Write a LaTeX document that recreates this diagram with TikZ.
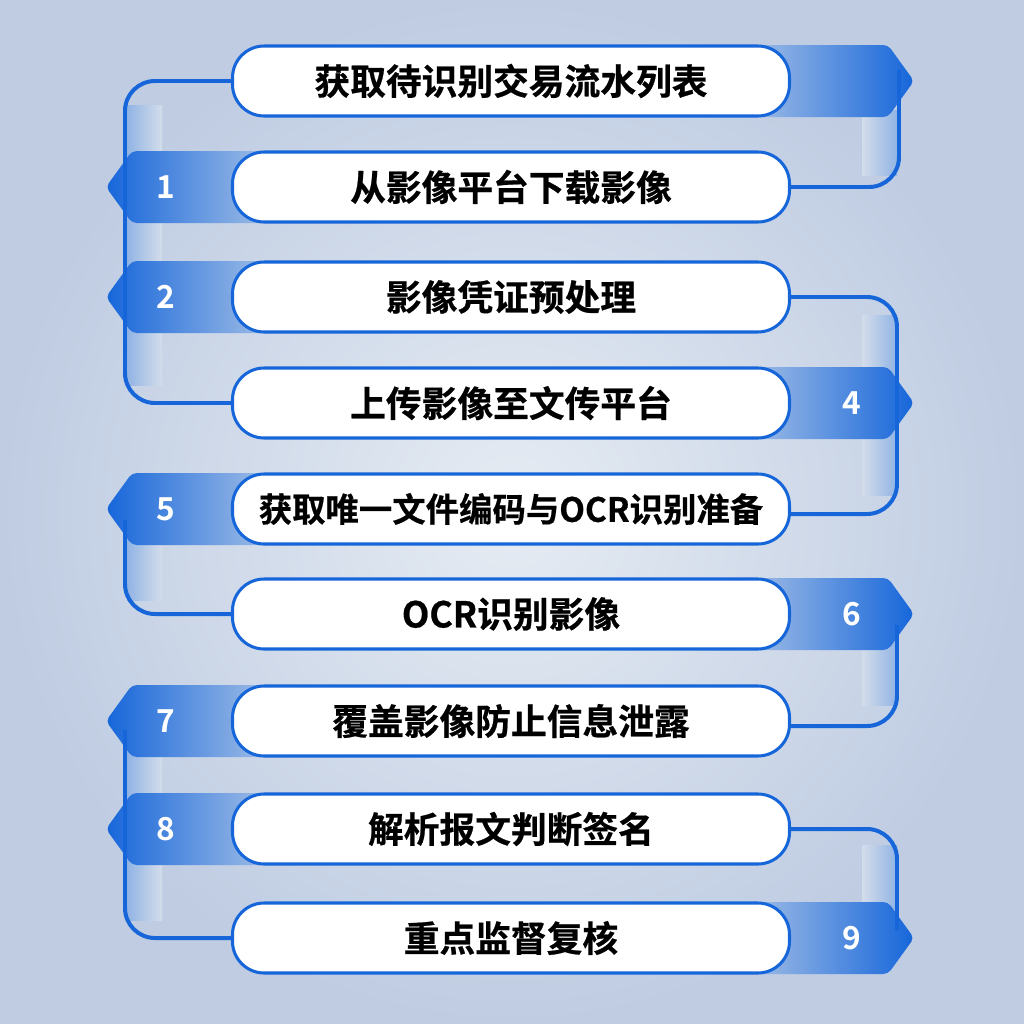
\documentclass[tikz,border=0pt]{standalone}
\usepackage{fontspec}
\newfontfamily\cjk[FakeBold=0.6]{Noto Sans CJK SC Bold}
\newfontfamily\cjknum{Noto Sans CJK SC Bold}
\definecolor{bl}{HTML}{1666DA}
\definecolor{bgc}{HTML}{D3DDEA}
\definecolor{bgi}{HTML}{E6ECF3}
\definecolor{bgo}{HTML}{BFCCE2}
\begin{document}
\begin{tikzpicture}[x=0.03cm,y=-0.03cm,
  pill/.style={draw=bl,line width=2.6pt,fill=white,rounded corners=0.95cm,minimum width=557*0.03cm,minimum height=70*0.03cm,font=\cjk\fontsize{30.5}{34}\selectfont,inner sep=0pt},
  num/.style={text=white,font=\cjknum\fontsize{27}{30}\selectfont},
  conn/.style={draw=bl,line width=3.4pt,rounded corners=0.9cm}]
\useasboundingbox (0,0) rectangle (1024,1024);
\shade[inner color=bgi,outer color=bgo] (0,0) rectangle (1024,1024);
% tabs
\newcommand\ltab[1]{\shade[left color=bl,right color=bgc,rounded corners=4pt] (106,#1) -- (132,#1-36) -- (330,#1-36) -- (330,#1+36) -- (132,#1+36) -- cycle;}
\newcommand\rtab[1]{\shade[right color=bl,left color=bgc,rounded corners=4pt] (914,#1) -- (888,#1-36) -- (690,#1-36) -- (690,#1+36) -- (888,#1+36) -- cycle;}
% connector light bands
\newcommand\lband[2]{\shade[left color=bl!35!bgc,right color=bgc] (127,#1) rectangle (162,#2);}
\newcommand\rband[2]{\shade[right color=bl!35!bgc,left color=bgc] (862,#1) rectangle (897,#2);}
\lband{105}{385}
\rband{110}{175}
\rband{315}{495}
\lband{530}{600}
\rband{640}{705}
\lband{745}{920}
\rband{845}{915}
\rtab{81}\ltab{187}\ltab{297}\rtab{403}\ltab{509}\rtab{614}\ltab{721}\ltab{829}\rtab{938}
% pills
\node[pill] (p1) at (511,81) {获取待识别交易流水列表};
\node[pill] (p2) at (511,187) {从影像平台下载影像};
\node[pill] (p3) at (511,297) {影像凭证预处理};
\node[pill] (p4) at (511,403) {上传影像至文传平台};
\node[pill,font=\cjk\fontsize{28.5}{32}\selectfont] (p5) at (511,509) {获取唯一文件编码与OCR识别准备};
\node[pill] (p6) at (511,614) {OCR识别影像};
\node[pill] (p7) at (511,721) {覆盖影像防止信息泄露};
\node[pill] (p8) at (511,829) {解析报文判断签名};
\node[pill] (p9) at (511,938) {重点监督复核};
% connectors
\coordinate (l1) at (125,81); \coordinate (l4) at (125,403);
\draw[conn] (p1.west) -- (l1) -- (l4) -- (p4.west);
\coordinate (r1) at (899,70); \coordinate (r2) at (899,187);
\draw[conn] (r1) -- (r2) -- (p2.east);
\coordinate (r3) at (897,297); \coordinate (r5) at (897,514);
\draw[conn] (p3.east) -- (r3) -- (r5) -- ([yshift=-0.15cm]p5.east);
\coordinate (l5) at (125,520); \coordinate (l6) at (125,614);
\draw[conn] (l5) -- (l6) -- (p6.west);
\coordinate (r6) at (897,625); \coordinate (r7) at (897,726);
\draw[conn] (r6) -- (r7) -- ([yshift=-0.15cm]p7.east);
\coordinate (l7) at (125,730); \coordinate (l9) at (125,938);
\draw[conn] (l7) -- (l9) -- (p9.west);
\coordinate (r8) at (897,829); \coordinate (r9) at (897,930);
\draw[conn] (p8.east) -- (r8) -- (r9);
% numbers
\node[num] (n1) at (166,187) {1};
\node[num] (n2) at (166,297) {2};
\node[num] (n4) at (852,403) {4};
\node[num] (n5) at (166,509) {5};
\node[num] (n6) at (852,614) {6};
\node[num] (n7) at (166,721) {7};
\node[num] (n8) at (166,829) {8};
\node[num] (n9) at (852,938) {9};
\end{tikzpicture}
\end{document}
